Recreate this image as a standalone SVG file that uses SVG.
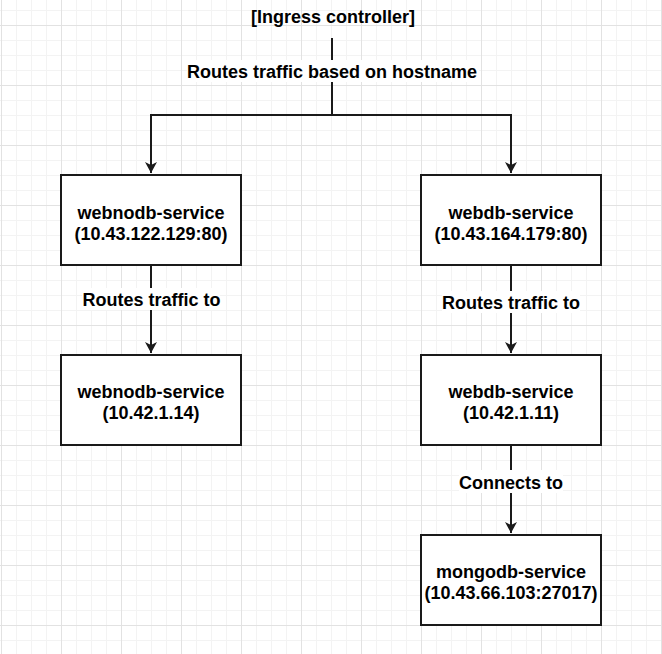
<svg xmlns="http://www.w3.org/2000/svg" width="662" height="654" viewBox="0 0 662 654">
<defs>
<pattern id="minor" width="15" height="15" patternUnits="userSpaceOnUse" x="1" y="10">
<path d="M0.5 0V15M0 0.5H15" fill="none" stroke="#f3f3f3" stroke-width="1"/>
</pattern>
<pattern id="major" width="60" height="60" patternUnits="userSpaceOnUse" x="1" y="25">
<path d="M0.5 0V60M0 0.5H60" fill="none" stroke="#e2e2e2" stroke-width="1"/>
</pattern>
<marker id="arr" viewBox="0 0 12 12" refX="11" refY="6" markerWidth="12" markerHeight="12" markerUnits="userSpaceOnUse" orient="auto">
<path d="M0 0L11 6L0 12L3 6Z" fill="#1a1a1a"/>
</marker>
<style>
.box{fill:#fff;stroke:#1a1a1a;stroke-width:2}
.t{font-family:"Liberation Sans",Arial,sans-serif;font-weight:bold;font-size:18px;fill:#000;text-anchor:middle}
.c{fill:none;stroke:#1a1a1a;stroke-width:2}
.lb{fill:#fff}
</style>
</defs>
<rect width="662" height="654" fill="#fff"/>
<rect width="662" height="654" fill="url(#minor)"/>
<rect width="662" height="654" fill="url(#major)"/>

<g id="connectors">
<path class="c" d="M332 38V115H151V173" marker-end="url(#arr)"/>
<path class="c" d="M332 115H511V173" marker-end="url(#arr)"/>
<path class="c" d="M151 265V353" marker-end="url(#arr)"/>
<path class="c" d="M511 265V353" marker-end="url(#arr)"/>
<path class="c" d="M511 445V533" marker-end="url(#arr)"/>
<rect class="lb" x="187" y="60" width="292" height="22"/>
<text class="t" x="332" y="77.5">Routes traffic based on hostname</text>
<rect class="lb" x="82" y="288" width="138" height="22"/>
<text class="t" x="151.5" y="305.5">Routes traffic to</text>
<rect class="lb" x="442" y="291" width="138" height="22"/>
<text class="t" x="511" y="309">Routes traffic to</text>
<rect class="lb" x="459" y="470" width="104" height="23"/>
<text class="t" x="511" y="488.5">Connects to</text>
</g>

<g id="ingress">
<text class="t" x="333" y="23">[Ingress controller]</text>
</g>

<g id="webnodb-svc">
<rect class="box" x="61" y="175" width="180" height="90"/>
<text class="t" x="151" y="218.5">webnodb-service</text>
<text class="t" x="151" y="239.5">(10.43.122.129:80)</text>
</g>

<g id="webnodb-pod">
<rect class="box" x="61" y="355" width="180" height="90"/>
<text class="t" x="151" y="398">webnodb-service</text>
<text class="t" x="151" y="419">(10.42.1.14)</text>
</g>

<g id="webdb-svc">
<rect class="box" x="421" y="175" width="180" height="90"/>
<text class="t" x="511" y="218.5">webdb-service</text>
<text class="t" x="511" y="239.5">(10.43.164.179:80)</text>
</g>

<g id="webdb-pod">
<rect class="box" x="421" y="355" width="180" height="90"/>
<text class="t" x="511" y="398">webdb-service</text>
<text class="t" x="511" y="419">(10.42.1.11)</text>
</g>

<g id="mongodb-svc">
<rect class="box" x="421" y="535" width="180" height="90"/>
<text class="t" x="511" y="578">mongodb-service</text>
<text class="t" x="511" y="599">(10.43.66.103:27017)</text>
</g>
</svg>
